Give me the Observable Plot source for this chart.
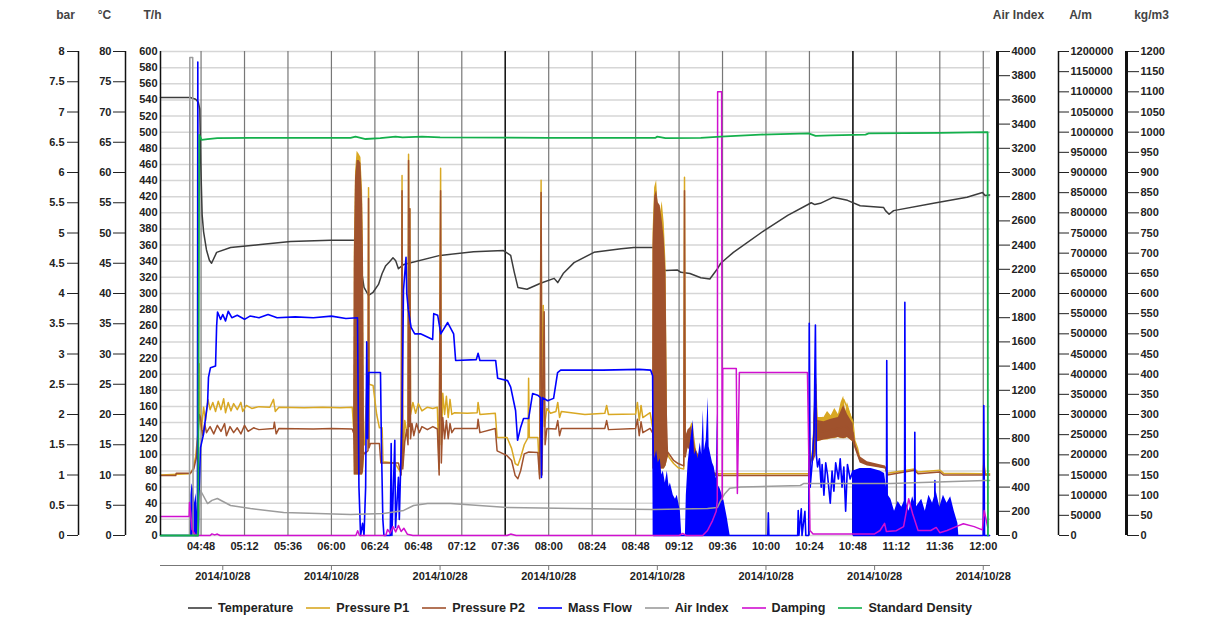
<!DOCTYPE html>
<html><head><meta charset="utf-8">
<script src="https://cdn.jsdelivr.net/npm/d3@7"></script>
<script src="https://cdn.jsdelivr.net/npm/@observablehq/plot@0.6"></script>
<style>
body{margin:0;background:#fff;font-family:"Liberation Sans",Arial,sans-serif;}
#wrap{position:relative;width:1232px;height:619px;overflow:hidden;background:#fff;}
#topline{position:absolute;left:8px;top:5px;width:1212px;height:0;border-top:1.5px solid #222;}
#chart{position:absolute;left:0;top:0;}
#legend{position:absolute;left:188px;top:599px;height:18px;display:flex;align-items:center;font-size:12.6px;font-weight:bold;color:#222;white-space:nowrap;}
#legend .it{display:flex;align-items:center;margin-right:13px;}
#legend svg{margin-right:6px;}
</style></head>
<body><div id="wrap"><div id="topline"></div><div id="chart"></div><div id="legend"></div></div>
<script>
// ---------- tick labels ----------
const gridTimes = ["04:48","05:12","05:36","06:00","06:24","06:48","07:12","07:36","08:00","08:24","08:48","09:12","09:36","10:00","10:24","10:48","11:12","11:36","12:00"];
const darkGridTimes = ["07:36","10:48"];
const dateTicks = ["05:00","06:00","07:00","08:00","09:00","10:00","11:00","12:00"];
const barTicks = d3.range(0, 8.01, 0.5);
const degTicks = d3.range(0, 81, 5);
const thTicks = d3.range(0, 601, 20);
const airTicks = d3.range(0, 4001, 200);
const amTicks = d3.range(0, 1200001, 50000);
const kgTicks = d3.range(0, 1201, 50);

// ---------- series (time, value in own unit) ----------
const temperature = [["04:25.6",72.4],["04:42",72.4],["04:45",72.1],["04:46.5",71.6],["04:47.3",70.5],["04:47.8",62],["04:48.6",53],["04:49.4",50.2],["04:51",47.2],["04:52.6",45.5],["04:53.8",45.0],["04:56.6",46.8],["05:04.3",47.6],["05:20.9",48.1],["05:37.4",48.6],["05:59.5",48.8],["06:14.4",48.8],["06:16",45],["06:18",41],["06:20.5",39.7],["06:23",40.2],["06:26",41.5],["06:28",43.3],["06:30",44.6],["06:32",45.2],["06:34",45.9],["06:35.5",45.4],["06:37",44.1],["06:40",44.8],["07:00",46.3],["07:18.5",46.9],["07:35",47.1],["07:39",46.3],["07:41",43.5],["07:43",41.0],["07:48",40.7],["07:55.5",41.7],["08:03",42.5],["08:05",41.8],["08:08",43.3],["08:14",45.1],["08:25",46.8],["08:40",47.4],["08:47",47.6],["08:58",47.6],["09:01",46.8],["09:02",44.5],["09:04.5",43.8],["09:11",43.9],["09:13",43.5],["09:18",43.3],["09:24",42.6],["09:29",42.4],["09:33",44.0],["09:35",45.0],["09:42",46.8],["09:59",50.4],["10:12",52.9],["10:25",55.0],["10:27",54.7],["10:30",54.9],["10:37",55.9],["10:45",55.4],["10:52",54.5],["11:05",54.2],["11:06",53.7],["11:08",53.1],["11:10.5",53.7],["11:32.5",54.9],["11:51",55.9],["11:59.6",56.7],["12:01",56.2],["12:03.5",56.3]];

const pressureP1 = [["04:25.6",1.00],["04:42",1.02],["04:43.5",1.1],["04:45",1.3],["04:46.3",1.7],["04:47",2.84],["04:47.4",1.9],["04:48.2",1.75],["04:49.4",2.12],["04:50.5",1.9],["04:51.8",2.25],["04:53",2.08],["04:54.5",2.2],["04:56",2.05],["04:57.5",2.22],["04:59",2.08],["05:00.5",2.26],["05:01.5",2.03],["05:03",2.2],["05:04.5",2.06],["05:06",2.18],["05:08",2.08],["05:10",2.2],["05:11",2.05],["05:13",2.15],["05:16",2.1],["05:20",2.13],["05:26",2.12],["05:28",2.25],["05:29",2.05],["05:31",2.12],["05:45",2.11],["05:55",2.12],["06:05",2.11],["06:11.5",2.12],["06:12.2",1.8],["06:18.3",1.5],["06:19.5",2.45],["06:20.2",2.5],["06:20.5",5.75],["06:20.8",2.5],["06:23",2.48],["06:25",2.0],["06:26.5",1.78],["06:28",1.78],["06:28.5",1.22],["06:35",1.2],["06:37",1.1],["06:38.5",1.04],["06:39",5.95],["06:39.4",1.15],["06:40.5",1.9],["06:42.3",1.6],["06:42.6",6.3],["06:43",2.3],["06:43.3",5.4],["06:43.7",2.0],["06:45",2.2],["06:46.5",2.02],["06:48",2.18],["06:50",2.06],["06:53",2.12],["06:56",2.1],["06:58.5",2.12],["06:59.5",1.1],["07:00.3",6.07],["07:00.7",1.5],["07:01.5",2.35],["07:02.5",2.0],["07:03.5",2.3],["07:04.5",1.95],["07:05.5",2.25],["07:06.5",2.0],["07:08",2.03],["07:15",2.02],["07:20.5",2.03],["07:21",2.2],["07:22",2.0],["07:30.5",2.02],["07:31.5",1.62],["07:37",1.62],["07:39.5",1.44],["07:41.5",1.19],["07:43",1.16],["07:44.5",1.29],["07:46.5",1.5],["07:48.6",1.62],["07:48.9",2.6],["07:49.3",1.62],["07:54",1.62],["07:55",1.0],["07:55.8",5.87],["07:56.3",1.3],["07:57",3.8],["07:57.6",1.8],["07:59",2.1],["08:01",2.02],["08:04",2.05],["08:05",2.2],["08:06",1.95],["08:07",2.05],["08:20",2.0],["08:31",2.02],["08:32",2.15],["08:33",2.0],["08:48",2.01],["08:49",2.2],["08:50",1.9],["08:51",2.15],["08:52",1.95],["08:56",2.03],["08:57.3",1.8],["09:05.8",1.35],["09:06.5",1.29],["09:09",1.19],["09:11.5",1.12],["09:14.6",1.1],["09:15",5.92],["09:15.4",1.5],["09:16.5",1.62],["09:19",1.85],["09:21",1.4],["09:24",1.2],["09:27",1.07],["09:30",1.02],["10:23.5",1.02],["10:24.5",1.2],["10:26",1.45],["10:27.4",2.6],["10:28.2",1.9],["10:31",1.95],["10:34",1.9],["10:37",1.98],["10:40",1.95],["10:42.9",2.25],["10:45",2.1],["10:48",1.88],["10:49",1.57],["10:50.5",1.45],["10:52",1.25],["10:56",1.2],["11:06",1.13],["11:07",1.03],["11:22",1.1],["11:24",1.05],["11:36",1.08],["11:38",1.03],["12:00",1.02],["12:00.3",1.25],["12:01",1.02],["12:03.5",1.02]];
const p1BurstA = [["06:12.6",1.0,4.7],["06:13.3",1.0,6.0],["06:14.2",1.0,6.35],["06:15.3",1.0,6.3],["06:16.3",1.0,6.25],["06:17.2",1.0,5.7],["06:17.7",1.05,4.8],["06:18.2",1.3,1.6]];
const p1BurstB = [["08:57.6",1.1,5.0],["08:58.5",1.1,5.75],["08:59.6",1.1,5.87],["09:00.5",1.1,5.4],["09:01.6",1.1,5.3],["09:02.7",1.1,5.52],["09:03.8",1.1,5.16],["09:04.8",1.15,4.5],["09:05.6",1.25,2.1]];
const p1BurstD = [["10:27.4",1.3,2.6],["10:28.5",1.55,1.95],["10:32",1.58,1.95],["10:34",1.58,2.05],["10:36",1.6,1.98],["10:38",1.6,2.1],["10:40",1.62,2.0],["10:41.5",1.6,2.2],["10:42.9",1.6,2.3],["10:44",1.6,2.05],["10:45",1.62,2.2],["10:48",1.55,1.9]];

const pressureP2 = [["04:25.6",0.99],["04:34",0.99],["04:34.3",1.03],["04:42",1.03],["04:44",1.1],["04:45.5",1.3],["04:46.5",1.74],["04:47",2.0],["04:47.7",1.95],["04:48.5",1.74],["04:49",1.65],["04:50",1.85],["04:51",1.7],["04:53",1.8],["04:55",1.68],["04:57",1.82],["04:59",1.72],["05:01",1.85],["05:02",1.65],["05:04",1.8],["05:06",1.7],["05:08",1.78],["05:10",1.68],["05:12",1.82],["05:14",1.72],["05:17",1.78],["05:20",1.75],["05:28",1.77],["05:28.5",1.87],["05:29.5",1.68],["05:31",1.77],["05:50",1.76],["06:00",1.77],["06:11.5",1.76],["06:12.2",1.7],["06:18.3",1.35],["06:20.2",1.4],["06:20.5",5.57],["06:20.8",1.45],["06:21.5",1.52],["06:26.5",1.52],["06:27.3",1.2],["06:37",1.2],["06:38.5",1.0],["06:39",5.7],["06:39.4",1.1],["06:40.5",1.55],["06:41.5",1.75],["06:42.3",1.5],["06:42.6",6.2],["06:43",1.8],["06:43.3",5.4],["06:43.7",1.6],["06:44.5",1.85],["06:45.5",1.65],["06:47",1.85],["06:48.5",1.7],["06:50",1.8],["06:53",1.75],["06:56",1.8],["06:58.5",1.76],["06:59.5",1.0],["07:00.3",5.7],["07:00.7",1.2],["07:01.5",1.95],["07:02.5",1.6],["07:03.5",1.9],["07:04.5",1.6],["07:05.5",1.85],["07:06.5",1.7],["07:08",1.77],["07:20.5",1.77],["07:21",1.92],["07:22",1.7],["07:30.5",1.77],["07:31.5",1.4],["07:37",1.32],["07:39.5",1.24],["07:41.5",0.99],["07:43",0.94],["07:44.5",1.07],["07:46.5",1.35],["07:49",1.38],["07:54",1.37],["07:55",0.94],["07:55.8",5.67],["07:56.3",1.0],["07:57.5",3.7],["07:58",1.5],["07:59",1.77],["08:04",1.76],["08:05",1.9],["08:06",1.65],["08:07",1.77],["08:31",1.77],["08:32",1.9],["08:33",1.75],["08:48",1.77],["08:49",1.92],["08:50",1.65],["08:51",1.88],["08:52",1.7],["08:56",1.77],["08:57.3",1.7],["09:06.2",1.36],["09:09",1.24],["09:11.5",1.19],["09:14.6",1.15],["09:15",5.7],["09:15.4",1.3],["09:16.5",1.5],["09:19",1.6],["09:21",1.3],["09:24",1.15],["09:27",1.05],["09:30",1.0],["09:34",0.99],["10:23.5",0.99],["10:24.5",1.2],["10:26",1.35],["10:27.4",2.5],["10:28.2",1.7],["10:36",1.75],["10:44",1.8],["10:48",1.7],["10:49",1.5],["10:52",1.24],["10:56",1.19],["11:06",1.12],["11:07",1.0],["11:22",1.08],["11:24",1.02],["11:36",1.05],["11:38",1.0],["12:00",1.0],["12:00.3",1.2],["12:01",1.0],["12:03.5",1.0]];
const p2BurstA = [["06:12.2",1.7,1.8],["06:12.6",1.0,4.5],["06:13.3",1.0,5.9],["06:14.2",1.0,6.2],["06:15.3",1.0,6.2],["06:16.3",1.0,6.15],["06:17.2",1.0,5.5],["06:17.7",1.05,4.6],["06:18.3",1.3,1.5]];
const p2BurstB = [["08:57.3",1.7,1.8],["08:57.6",1.1,4.8],["08:58.5",1.1,5.6],["08:59.6",1.1,5.7],["09:00.5",1.1,5.5],["09:01.6",1.1,5.45],["09:02.7",1.1,5.2],["09:03.8",1.1,4.9],["09:04.8",1.15,4.3],["09:05.6",1.25,2.0],["09:06.2",1.3,1.4]];
const p2BandC = [["09:15.5",1.3,1.62],["09:17",1.45,1.75],["09:19",1.35,1.8],["09:21",1.15,1.45],["09:24",1.05,1.25],["09:27",1.0,1.12],["09:30",0.98,1.05],["09:34",0.98,1.02]];
const p2BandD = [["10:26",1.2,1.5],["10:27.4",1.3,2.5],["10:28.5",1.55,1.9],["10:32",1.58,1.88],["10:36",1.6,1.92],["10:40",1.62,1.95],["10:42.9",1.6,2.15],["10:45",1.62,2.0],["10:48",1.55,1.85],["10:49",1.45,1.55],["10:52",1.2,1.3],["10:56",1.15,1.22],["11:06",1.1,1.15],["11:07",1.0,1.04]];

const massFlow = [["04:25.6",0],["04:46",0],["04:46.2",587],["04:46.5",0],["04:47",60],["04:47.7",109],["04:49.4",126],["04:50.5",146],["04:51.6",164],["04:52.1",196],["04:53.2",208],["04:56",210],["04:56.6",260],["04:57.1",277],["04:58.8",268],["05:00",274],["05:01.5",266],["05:03",278],["05:05",270],["05:08",273],["05:12",268],["05:15",272],["05:20",270],["05:25",274],["05:30",270],["05:40",271],["05:50",270],["06:00",272],["06:08",269],["06:14.4",270],["06:15.2",60],["06:16.1",0],["06:17.2",15],["06:18",0],["06:18.9",60],["06:19.5",240],["06:20",120],["06:20.6",202],["06:27.1",202],["06:27.6",114],["06:28.4",20],["06:29",0],["06:32.5",0],["06:33",114],["06:33.4",0],["06:35",118],["06:35.4",10],["06:37",72],["06:37.5",20],["06:39",150],["06:39.8",304],["06:41.2",345],["06:41.6",300],["06:42.5",279],["06:44",258],["06:46",250],["06:49.2",250],["06:55.9",243],["06:56.5",275],["06:58.7",273],["07:00.4",250],["07:04.2",264],["07:07.5",250],["07:08.6",217],["07:20",218],["07:21",226],["07:22",217],["07:30.7",217],["07:31.8",195],["07:37.3",192],["07:39",184],["07:41.7",155],["07:42.8",118],["07:44.5",134],["07:46.1",145],["07:48.9",145],["07:51.1",176],["07:53.9",174],["07:55.5",171],["07:56",72],["07:56.6",171],["07:59.4",167],["08:02.7",170],["08:04.9",202],["08:06.6",205],["08:30",205],["08:50",206],["08:56.3",205],["08:57.4",198],["08:57.9",0],["10:01",0],["10:01.3",28],["10:01.6",0],["10:17.5",0],["10:17.8",31],["10:18.2",0],["10:19.5",33],["10:19.9",0],["10:21.5",30],["10:22",0],["10:23.6",0],["10:23.9",263],["10:24.4",60],["10:25.5",90],["10:26.6",130],["10:27.3",261],["10:27.8",100],["10:28.5",85],["10:29.5",95],["10:30.5",60],["10:31",88],["10:32",50],["10:33",90],["10:34",75],["10:35.5",40],["10:36.5",80],["10:37.5",55],["10:38.5",90],["10:40",70],["10:41",95],["10:42",60],["10:43",85],["10:44",30],["10:45",88],["10:46.5",70],["10:48",80],["10:48.3",0],["11:06.5",0],["11:06.7",217],["11:07",0],["11:16.5",0],["11:16.7",289],["11:17",0],["11:22",0],["11:22.2",128],["11:22.5",0],["11:33",0],["11:33.3",68],["11:33.6",0],["12:00",0],["12:00.3",161],["12:00.7",0],["12:03.5",0]];
const massBandA = [["04:42.1",0],["04:42.4",50],["04:43",64],["04:43.8",58],["04:44.5",40],["04:45.2",52],["04:46",30],["04:46.6",0]];
const massBandB = [["08:57.8",0],["08:58",126],["08:58.6",95],["08:59.6",105],["09:00.5",90],["09:01.6",95],["09:02.5",75],["09:03.3",80],["09:04.4",65],["09:05.5",80],["09:06.5",60],["09:07.2",65],["09:08.8",50],["09:10",45],["09:11",50],["09:12.7",30],["09:13.5",0],["09:15.5",0],["09:16",50],["09:17",90],["09:18.2",114],["09:19.9",143],["09:20.5",100],["09:21.5",105],["09:22.5",95],["09:23.7",115],["09:24.5",100],["09:25.4",155],["09:26",105],["09:27",118],["09:28.1",171],["09:28.6",110],["09:29.5",100],["09:30.5",90],["09:31.4",85],["09:32.5",70],["09:33.1",151],["09:33.6",62],["09:34.7",58],["09:36.9",42],["09:38.6",22],["09:40.2",0]];
const massBandC = [["10:48",0],["10:48.2",80],["10:52",83],["10:58",83],["11:03",80],["11:05.5",77],["11:06.5",60],["11:07.5",50],["11:09",45],["11:11",30],["11:13",42],["11:15",35],["11:17",45],["11:19",30],["11:21",48],["11:23",35],["11:26",45],["11:28",30],["11:30",50],["11:32",40],["11:34",55],["11:36",35],["11:38",50],["11:40",40],["11:42",48],["11:44",30],["11:46",15],["11:46.5",0]];

const airIndex = [["04:25.6",0],["04:41.6",0],["04:41.8",3950],["04:43.4",3950],["04:43.6",0],["04:46",0],["04:47.7",372],["04:51.6",264],["04:54",290],["04:57",306],["05:04.3",248],["05:15.3",223],["05:33.6",190],["05:52.3",182],["06:10.6",174],["06:28.8",182],["06:39.9",207],["06:45.4",248],["06:53.1",264],["07:05.8",264],["07:37.3",231],["08:13.7",223],["08:57.9",215],["09:27.7",223],["09:33.2",231],["09:35",289],["09:37",340],["09:40",390],["09:46",400],["10:19",413],["10:21",430],["11:08.7",430],["12:01",455],["12:03.5",455]];

const damping = [["04:25.6",47000],["04:41.4",47000],["04:41.6",82000],["04:42.3",55000],["04:43",15000],["04:45",0],["04:53",0],["04:54",4000],["04:55.5",1500],["04:57",3500],["04:58.5",0],["06:13.5",0],["06:14.5",12000],["06:15.5",0],["06:30",0],["06:31",15000],["06:32.5",6000],["06:34",22000],["06:35.5",9000],["06:37",25000],["06:38.5",10000],["06:40",18000],["06:42",3000],["06:45",0],["07:37",0],["07:39",3500],["07:42",0],["09:12",0],["09:14",5000],["09:16",0],["09:25",0],["09:27.7",12400],["09:30.5",37000],["09:32.5",60000],["09:33.1",87000],["09:33.3",1100000],["09:35.5",1100000],["09:35.8",90000],["09:36.1",414000],["09:43.6",414000],["09:44.2",104000],["09:45.3",404000],["10:22.9",404000],["10:24.3",12400],["10:26",4000],["11:00",4000],["11:03",12400],["11:05.5",30000],["11:06.5",10000],["11:12",12000],["11:16",22000],["11:18.8",91000],["11:21",54000],["11:24",12400],["11:31",12400],["11:34",20000],["11:36",7000],["11:40",12400],["11:45",22000],["11:49",29000],["11:55",22000],["11:59.5",14000],["12:00.5",62000],["12:02.5",20000]];

const standardDensity = [["04:25.6",0],["04:46.4",0],["04:47",993],["04:48.3",981],["04:51.6",983],["04:57",985],["05:15",986],["06:10.6",986],["06:13.3",989],["06:18.9",983],["06:27",985],["06:35.4",989],["06:39.3",987],["06:50",989],["07:00",987],["08:00",986],["08:59",986],["09:00",989],["09:04.5",985],["09:24",986],["09:35",989],["09:57",994],["10:23.5",997],["10:27.4",991],["10:35.7",992],["10:55",994],["10:56.7",997],["11:36.4",998],["12:02.4",1000],["12:02.6",0]];

const seriesNames = ["Temperature","Pressure P1","Pressure P2","Mass Flow","Air Index","Damping","Standard Density"];
const seriesColors = ["#3c3c3c","#d9a823","#a0522d","#0000ff","#9c9c9c","#d010d0","#14b04c"];

// ---------- helpers ----------
const T = s => { const [h, m] = s.split(":"); return new Date(Date.UTC(2014, 9, 28, +h) + parseFloat(m) * 60000); };
const X0 = T("04:25.6"), X1 = T("12:04");
// conversion of each unit onto the shared T/h scale (0..600)
const F = {bar: 600/8, deg: 600/80, th: 1, air: 600/4000, am: 600/1200000, kg: 600/1200};
const fmt = v => String(Math.round(v * 100) / 100);
const ln = (data, f, stroke, sw = 1.5) => Plot.line(data, {x: d => T(d[0]), y: d => d[1] * f, stroke, strokeWidth: sw});
const band = (data, f, fill) => Plot.areaY(data, {x: d => T(d[0]), y1: d => (d.length > 2 ? d[1] : 0) * f, y2: d => (d.length > 2 ? d[2] : d[1]) * f, fill});
const yAxis = (ticks, f, anchor, dx, ts, tp, sw) => [
  Plot.axisY({ticks: ticks.map(v => v * f), tickFormat: d => fmt(d / f), anchor, dx, tickSize: ts, tickPadding: tp, fontWeight: "bold", label: null, stroke: "#222"}),
  Plot.ruleX([anchor === "left" ? X0 : X1], {dx, stroke: "#111", strokeWidth: sw})
];
const unit = (txt, anchor, dx) => Plot.text([txt], {text: d => d, frameAnchor: anchor, dx, dy: -36, textAnchor: "middle", lineAnchor: "middle", fontSize: 12, fontWeight: "bold", fill: "#444"});

const C = seriesColors;
const chart = Plot.plot({
  width: 1232, height: 594,
  marginLeft: 160, marginRight: 242, marginTop: 51, marginBottom: 59,
  style: {fontFamily: "'Liberation Sans', Arial, sans-serif", fontSize: "11px", color: "#222", background: "#fff", overflow: "visible"},
  x: {type: "utc", domain: [X0, X1]},
  y: {domain: [0, 600]},
  marks: [
    Plot.ruleY(thTicks, {stroke: "#d6d6d6", strokeWidth: 1.5}),
    Plot.ruleX(gridTimes.map(T), {stroke: "#777", strokeWidth: 1.2}),
    Plot.ruleX(darkGridTimes.map(T), {stroke: "#111", strokeWidth: 1.4}),
    ln(temperature, F.deg, C[0]),
    band(p1BurstA, F.bar, C[1]), band(p1BurstB, F.bar, C[1]), band(p1BurstD, F.bar, C[1]),
    ln(pressureP1, F.bar, C[1]),
    band(p2BurstA, F.bar, C[2]), band(p2BurstB, F.bar, C[2]), band(p2BandC, F.bar, C[2]), band(p2BandD, F.bar, C[2]),
    ln(pressureP2, F.bar, C[2]),
    band(massBandA, F.th, C[3]), band(massBandB, F.th, C[3]), band(massBandC, F.th, C[3]),
    ln(massFlow, F.th, C[3], 1.6),
    ln(airIndex, F.air, C[4]),
    ln(damping, F.am, C[5]),
    ln(standardDensity, F.kg, C[6], 1.8),
    ...yAxis(thTicks, F.th, "left", 0, 0, 3, 1.5),
    ...yAxis(degTicks, F.deg, "left", -35, 12, 2, 1.5),
    ...yAxis(barTicks, F.bar, "left", -82, 11, 3, 1.5),
    ...yAxis(airTicks, F.air, "right", 7, 12, 2, 3),
    ...yAxis(amTicks, F.am, "right", 68, 10, 2, 1.5),
    ...yAxis(kgTicks, F.kg, "right", 136, 12, 2, 3),
    Plot.axisX({ticks: gridTimes.map(T), tickFormat: d3.utcFormat("%H:%M"), tickSize: 0, tickPadding: 7, fontWeight: "bold", label: null}),
    Plot.ruleY([0], {dy: 30, stroke: "#777", strokeWidth: 1.2}),
    Plot.axisX({ticks: dateTicks.map(T), tickFormat: d3.utcFormat("%Y/%m/%d"), tickSize: 5, tickPadding: 2, dy: 30, fontWeight: "bold", label: null, stroke: "#777"}),
    unit("bar", "top-left", 65 - 160),
    unit("°C", "top-left", 104 - 160),
    unit("T/h", "top-left", 152 - 160),
    unit("Air Index", "top-right", 1018 - 990),
    unit("A/m", "top-right", 1080 - 990),
    unit("kg/m3", "top-right", 1151 - 990)
  ]
});
document.getElementById("chart").appendChild(chart);

const lg = document.getElementById("legend");
seriesNames.forEach((n, i) => {
  const it = document.createElement("span");
  it.className = "it";
  it.innerHTML = `<svg width="24" height="10"><line x1="0" y1="5" x2="24" y2="5" stroke="${seriesColors[i]}" stroke-width="1.6"/></svg><span>${n}</span>`;
  lg.appendChild(it);
});
</script></body></html>
